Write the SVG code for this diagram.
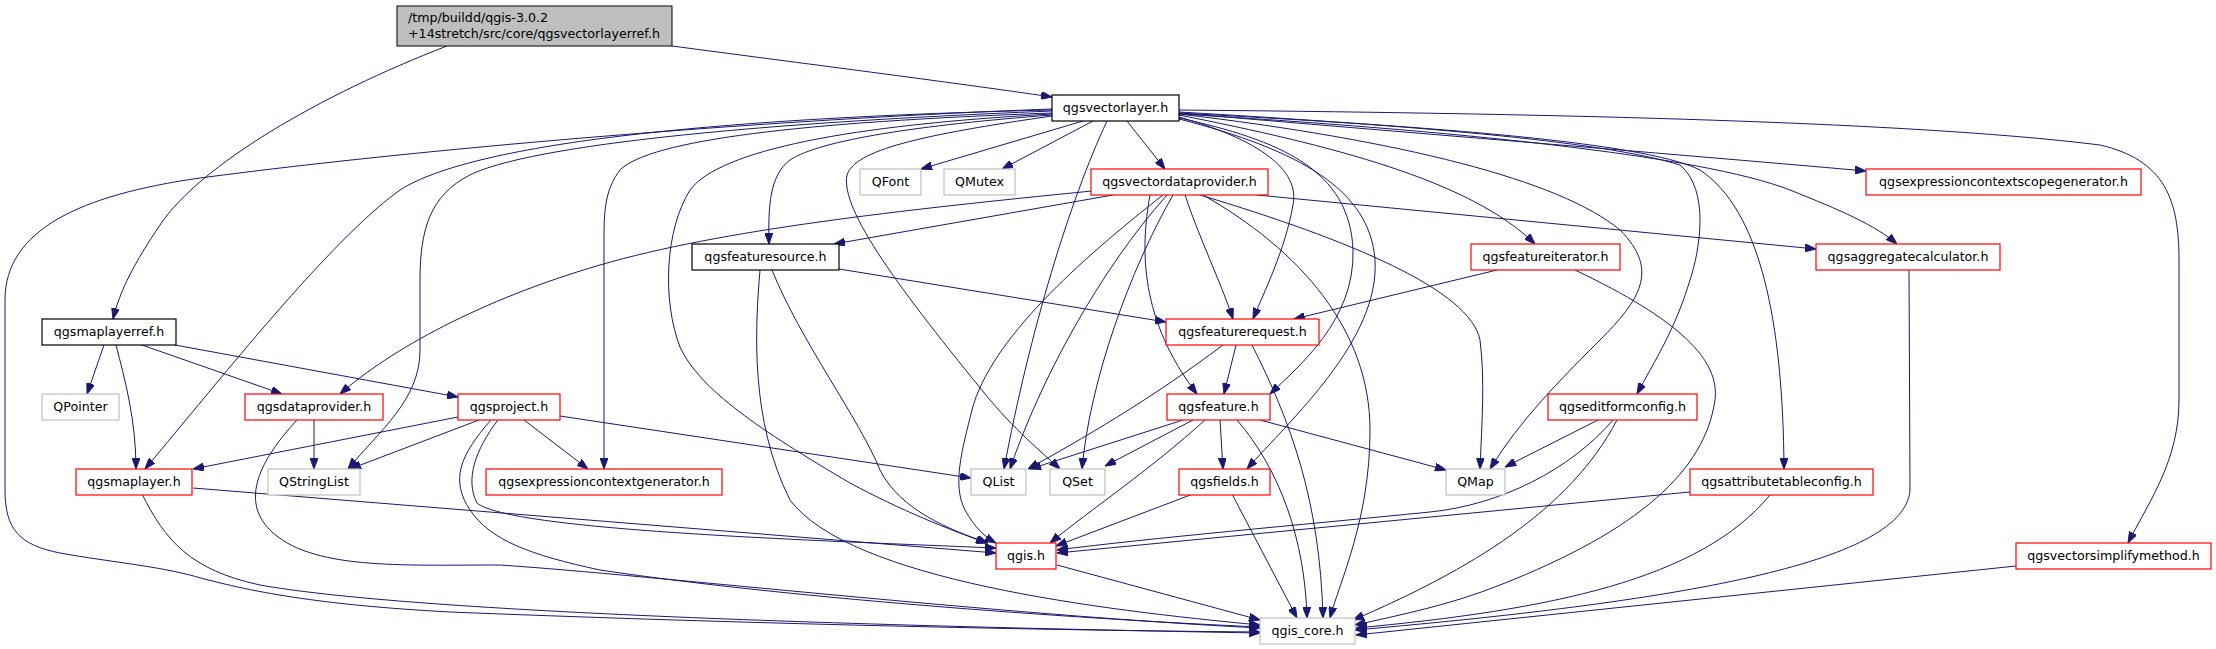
<svg xmlns="http://www.w3.org/2000/svg" width="2216" height="649" viewBox="0 0 2216 649">
<defs>
<style>
.n rect{fill:#fff;stroke-width:1.2}
.k rect{stroke:#000}
.r rect{stroke:#ff0000}
.g rect{stroke:#bfbfbf}
.root rect{fill:#bfbfbf;stroke:#000}
text{font-family:"DejaVu Sans","Liberation Sans",sans-serif;font-size:12.65px;fill:#000}
.n text{text-anchor:middle}
.root text{text-anchor:start}
#edges path{fill:none;stroke:#191970;stroke-width:1;marker-end:url(#a)}
</style>
<marker id="a" markerWidth="11" markerHeight="8" refX="11" refY="4" orient="auto" markerUnits="userSpaceOnUse"><path d="M0,0 L11,4 L0,8 z" fill="#191970" stroke="#191970" stroke-width="1"/></marker>
</defs>
<rect width="2216" height="649" fill="#fff"/>
<g id="edges">
<path d="M672,46 C800,63 950,82 1052,97"/>
<path d="M447,46 C320,95 200,165 160,225 C135,262 120,290 113,319"/>
<path d="M1083,121 L921,169"/>
<path d="M1093,121 L1002,169"/>
<path d="M1127,121 L1165,169"/>
<path d="M1052,115 C920,125 820,140 790,160 C770,175 768,205 769,244"/>
<path d="M1179,113 C1400,132 1650,152 1866,171"/>
<path d="M1179,115 C1330,145 1470,180 1535,244"/>
<path d="M1179,114 C1450,130 1700,155 1790,190 C1840,210 1875,225 1897,244"/>
<path d="M1052,110 C700,118 470,145 400,190 C330,240 220,380 145,469"/>
<path d="M1052,111 C700,125 520,150 470,175 C430,195 420,230 420,280 L420,350 C420,400 380,430 348,469"/>
<path d="M1052,113 C800,122 650,140 620,170 C605,190 604,210 604,240 L604,469"/>
<path d="M1052,109 C800,118 450,145 200,178 C80,195 5,230 5,300 L5,490 C5,530 20,545 60,553 C110,562 150,565 190,575 C250,592 320,605 450,612 C700,622 1000,630 1260,632"/>
<path d="M1052,114 C850,125 720,150 690,190 C665,230 662,300 680,347 C700,390 760,430 850,483 C900,510 950,530 987,543"/>
<path d="M1107,121 C1070,200 1030,330 1004,469"/>
<path d="M1052,116 C920,135 855,150 847,175 C840,210 900,290 990,400 C1020,435 1045,455 1060,469"/>
<path d="M1179,117 C1260,140 1300,170 1293,205 C1285,250 1265,290 1253,319"/>
<path d="M1179,118 C1280,140 1350,170 1353,250 C1355,320 1300,365 1270,394"/>
<path d="M1179,119 C1300,150 1370,190 1375,260 C1380,340 1290,420 1247,469"/>
<path d="M1179,114 C1400,140 1560,180 1620,230 C1660,270 1640,300 1600,340 C1560,380 1520,420 1490,469"/>
<path d="M1179,112 C1400,125 1600,140 1680,165 C1710,190 1700,250 1690,280 C1675,330 1655,360 1637,394"/>
<path d="M1179,113 C1400,125 1640,140 1700,170 C1760,210 1783,320 1784,469"/>
<path d="M1179,110 C1500,113 1900,120 2100,145 C2165,160 2179,200 2179,260 L2179,400 C2179,460 2150,500 2128,543"/>
<path d="M1113,195 L834,244"/>
<path d="M1092,191 C900,210 720,230 600,265 C480,300 390,350 340,394"/>
<path d="M1257,195 L1816,249"/>
<path d="M1185,195 C1200,240 1220,280 1233,319"/>
<path d="M1150,195 C1140,250 1140,320 1197,394"/>
<path d="M1163,195 C1080,260 990,340 972,410 C962,450 952,485 965,510 C975,528 985,537 996,543"/>
<path d="M1167,195 C1100,270 1040,380 1010,469"/>
<path d="M1173,195 C1130,270 1090,380 1082,469"/>
<path d="M1200,195 C1350,240 1470,290 1480,340 C1485,380 1482,420 1480,469"/>
<path d="M1203,195 C1300,250 1370,330 1370,430 C1370,520 1340,580 1330,618"/>
<path d="M839,269 L1166,322"/>
<path d="M760,270 C755,330 750,420 790,500 C850,580 1100,610 1260,625"/>
<path d="M772,270 C800,340 860,420 880,470 C900,510 950,530 988,543"/>
<path d="M1497,270 L1294,319"/>
<path d="M1575,270 C1680,320 1720,360 1715,400 C1705,470 1640,530 1500,585 C1450,605 1400,615 1355,625"/>
<path d="M1909,270 L1910,490 C1905,560 1700,600 1355,630"/>
<path d="M104,345 L87,394"/>
<path d="M116,345 C125,380 136,420 136,469"/>
<path d="M142,345 L282,394"/>
<path d="M175,345 L458,397"/>
<path d="M314,420 L314,469"/>
<path d="M297,420 C260,460 240,500 270,530 C310,570 400,565 500,565 C650,575 1000,615 1260,628"/>
<path d="M458,417 L193,469"/>
<path d="M479,420 L350,469"/>
<path d="M524,420 L588,469"/>
<path d="M560,416 L971,478"/>
<path d="M498,420 C475,450 465,480 477,503 C510,530 800,540 996,548"/>
<path d="M491,420 C460,455 450,480 470,510 C490,540 530,555 600,570 C800,600 1100,620 1260,627"/>
<path d="M193,488 L996,553"/>
<path d="M142,494 C165,540 190,570 260,585 C400,610 800,625 1260,633"/>
<path d="M1236,345 L1224,394"/>
<path d="M1223,345 C1150,400 1080,440 1028,469"/>
<path d="M1252,345 C1290,420 1320,500 1323,618"/>
<path d="M1183,420 L1030,469"/>
<path d="M1193,420 L1105,466"/>
<path d="M1220,420 L1223,469"/>
<path d="M1260,420 L1446,470"/>
<path d="M1205,420 C1150,470 1090,510 1050,543"/>
<path d="M1237,420 C1280,470 1305,540 1307,618"/>
<path d="M1193,494 L1056,546"/>
<path d="M1232,494 L1297,618"/>
<path d="M1057,565 L1260,620"/>
<path d="M1598,420 L1505,467"/>
<path d="M1613,420 C1570,470 1500,505 1430,512 C1300,525 1150,538 1057,550"/>
<path d="M1617,420 C1570,510 1470,570 1353,620"/>
<path d="M1690,492 L1057,553"/>
<path d="M1770,495 C1700,580 1550,610 1356,628"/>
<path d="M2016,566 L1356,635"/>
</g>
<g id="root" class="root"><rect x="397" y="6" width="275" height="40"/><text x="408" y="22">/tmp/buildd/qgis-3.0.2</text><text x="408" y="38">+14stretch/src/core/qgsvectorlayerref.h</text></g>
<g id="qgsvectorlayer" class="n k"><rect x="1052" y="95" width="127" height="26"/><text x="1115.5" y="112">qgsvectorlayer.h</text></g>
<g id="QFont" class="n g"><rect x="860" y="169" width="61" height="26"/><text x="890.5" y="186">QFont</text></g>
<g id="QMutex" class="n g"><rect x="944" y="169" width="71" height="26"/><text x="979.5" y="186">QMutex</text></g>
<g id="qgsvectordataprovider" class="n r"><rect x="1091" y="169" width="177" height="26"/><text x="1179.5" y="186">qgsvectordataprovider.h</text></g>
<g id="qgsexpressioncontextscopegenerator" class="n r"><rect x="1866" y="169" width="275" height="26"/><text x="2003.5" y="186">qgsexpressioncontextscopegenerator.h</text></g>
<g id="qgsfeaturesource" class="n k"><rect x="692" y="244" width="147" height="26"/><text x="765.5" y="261">qgsfeaturesource.h</text></g>
<g id="qgsfeatureiterator" class="n r"><rect x="1471" y="244" width="149" height="26"/><text x="1545.5" y="261">qgsfeatureiterator.h</text></g>
<g id="qgsaggregatecalculator" class="n r"><rect x="1816" y="244" width="184" height="26"/><text x="1908" y="261">qgsaggregatecalculator.h</text></g>
<g id="qgsmaplayerref" class="n k"><rect x="42" y="319" width="134" height="26"/><text x="109" y="336">qgsmaplayerref.h</text></g>
<g id="qgsfeaturerequest" class="n r"><rect x="1166" y="319" width="153" height="26"/><text x="1242.5" y="336">qgsfeaturerequest.h</text></g>
<g id="QPointer" class="n g"><rect x="42" y="394" width="77" height="26"/><text x="80.5" y="411">QPointer</text></g>
<g id="qgsdataprovider" class="n r"><rect x="245" y="394" width="138" height="26"/><text x="314" y="411">qgsdataprovider.h</text></g>
<g id="qgsproject" class="n r"><rect x="458" y="394" width="102" height="26"/><text x="509" y="411">qgsproject.h</text></g>
<g id="qgsfeature" class="n r"><rect x="1167" y="394" width="103" height="26"/><text x="1218.5" y="411">qgsfeature.h</text></g>
<g id="qgseditformconfig" class="n r"><rect x="1548" y="394" width="149" height="26"/><text x="1622.5" y="411">qgseditformconfig.h</text></g>
<g id="qgsmaplayer" class="n r"><rect x="76" y="469" width="116" height="26"/><text x="134" y="486">qgsmaplayer.h</text></g>
<g id="QStringList" class="n g"><rect x="268" y="469" width="92" height="26"/><text x="314" y="486">QStringList</text></g>
<g id="qgsexpressioncontextgenerator" class="n r"><rect x="486" y="469" width="236" height="26"/><text x="604" y="486">qgsexpressioncontextgenerator.h</text></g>
<g id="QList" class="n g"><rect x="971" y="469" width="55" height="26"/><text x="998.5" y="486">QList</text></g>
<g id="QSet" class="n g"><rect x="1050" y="469" width="55" height="26"/><text x="1077.5" y="486">QSet</text></g>
<g id="qgsfields" class="n r"><rect x="1179" y="469" width="91" height="26"/><text x="1224.5" y="486">qgsfields.h</text></g>
<g id="QMap" class="n g"><rect x="1446" y="469" width="59" height="26"/><text x="1475.5" y="486">QMap</text></g>
<g id="qgsattributetableconfig" class="n r"><rect x="1690" y="469" width="183" height="26"/><text x="1781.5" y="486">qgsattributetableconfig.h</text></g>
<g id="qgis" class="n r"><rect x="996" y="543" width="60" height="26"/><text x="1026" y="560">qgis.h</text></g>
<g id="qgsvectorsimplifymethod" class="n r"><rect x="2016" y="543" width="195" height="26"/><text x="2113.5" y="560">qgsvectorsimplifymethod.h</text></g>
<g id="qgis_core" class="n g"><rect x="1260" y="618" width="95" height="26"/><text x="1307.5" y="635">qgis_core.h</text></g>
</svg>
